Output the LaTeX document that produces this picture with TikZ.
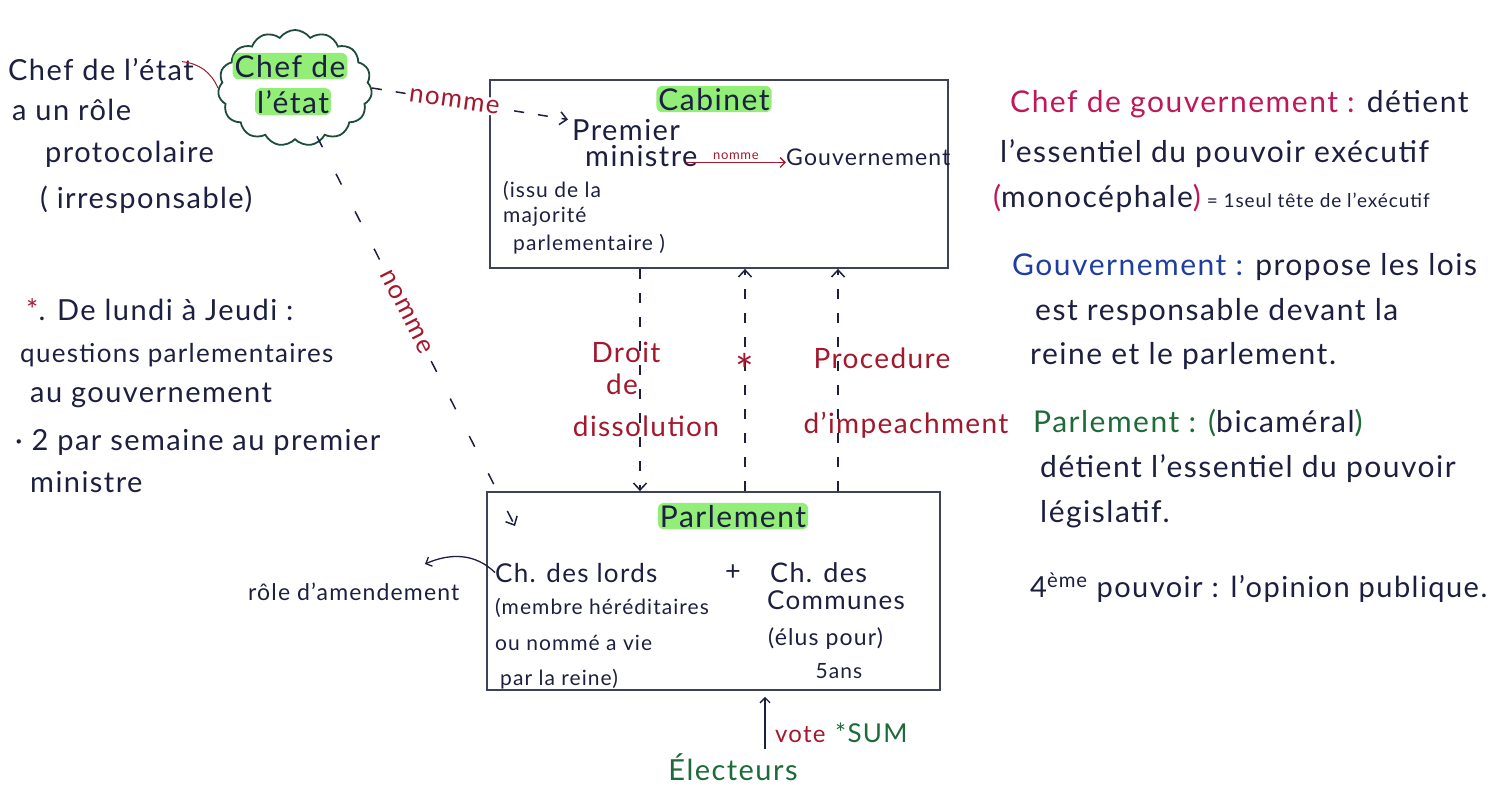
\documentclass[tikz,border=0pt]{standalone}
\usepackage{fontspec}
\setmainfont{Lato}[LetterSpace=5]
\usetikzlibrary{shapes.symbols,arrows.meta,calc}
\definecolor{ink}{HTML}{1C1F3F}
\definecolor{redl}{HTML}{A3182C}
\definecolor{mag}{HTML}{C0175A}
\definecolor{blu}{HTML}{1F3FA0}
\definecolor{grn}{HTML}{1E6B3A}
\definecolor{hlg}{HTML}{6EE84A}
\definecolor{cloudc}{HTML}{1D4D3A}
\begin{document}
\begin{tikzpicture}[x=1pt,y=-1pt,
  txt/.style={font=\fontsize{30}{34}\selectfont, text=ink, inner sep=0pt, anchor=base west},
  lt/.style={font=\fontsize{29}{32}\selectfont, text=ink, inner sep=0pt, anchor=base west},
  bx/.style={font=\fontsize{27}{30}\selectfont, text=ink, inner sep=0pt, anchor=base west},
  sm/.style={font=\fontsize{21}{24}\selectfont, text=ink, inner sep=0pt, anchor=base west},
  lab/.style={font=\fontsize{28}{30}\selectfont, text=redl, inner sep=0pt, anchor=base},
  hl/.style={fill=hlg, fill opacity=0.75, text opacity=1, rounded corners=6pt, inner sep=2pt, font=\fontsize{30}{32}\selectfont, text=ink, anchor=base},
  boxn/.style={draw=ink!85, line width=1.8pt, rectangle, inner sep=0pt},
  cloudn/.style={cloud, draw=cloudc, line width=1.8pt, cloud puffs=15, cloud puff arc=110, aspect=1.3, minimum width=154pt, minimum height=116pt, inner sep=0pt},
  dline/.style={draw=ink, line width=1.5pt, dash pattern=on 10pt off 14pt},
  sparse/.style={draw=ink, line width=1.5pt, dash pattern=on 12pt off 30pt},
  tip/.style={-{Straight Barb[length=7pt,width=13pt]}},
  stip/.style={-{Straight Barb[length=5pt,width=10pt]}},
]
\useasboundingbox (0,0) rectangle (1503,787);

% ---------- Chef de l'etat cloud ----------
\node[cloudn] (chef) at (295,88) {};
\node[hl] (chefA) at (290,77) {Chef de};
\node[hl] (chefB) at (293,113) {l'état};

% ---------- Left notes ----------
\node[lt] (l1) at (8,80) {Chef de l'état};
\node[lt] (l2) at (12,120) {a un rôle};
\node[lt] (l3) at (45,162) {protocolaire};
\node[lt] (l4) at (40,208) {( irresponsable)};
\draw[redl, line width=1pt] ($(l1.north east)+(-12,4)$) to[bend left=30] (chef.west);

\node[lt] (m1) at (26,320) {\textcolor{redl}{*}. De lundi à Jeudi :};
\node[lt, font=\fontsize{26}{30}\selectfont] (m2) at (20,362) {questions parlementaires};
\node[lt] (m3) at (30,402) {au gouvernement};
\node[lt] (m4) at (15,450) {· 2 par semaine au premier};
\node[lt] (m5) at (30,492) {ministre};

% ---------- Cabinet ----------
\node[boxn, minimum width=458pt, minimum height=188pt] (cab) at (719,174) {};
\node[hl] (cabT) at (714,110) {Cabinet};
\node[bx, font=\fontsize{29}{32}\selectfont] (pm) at (572,140) {Premier};
\node[bx, font=\fontsize{29}{32}\selectfont] (pm2) at (585,166) {ministre};
\node[sm] (pm3) at (503,197) {(issu de la};
\node[sm] (pm4) at (503,222) {majorité};
\node[sm] (pm5) at (513,250) {parlementaire )};
\node[bx, font=\fontsize{23}{26}\selectfont] (gov) at (786,165) {Gouvernement};
\draw[redl, line width=1.3pt, stip] ($(pm2.east |- gov.mid)+(-12,0)$) -- node[above=2pt, font=\fontsize{13}{15}\selectfont, text=redl, inner sep=0pt]{nomme} (gov.mid west);

% nomme (chef -> premier ministre)
\draw[dline, tip] (chef.east) -- node[pos=0.42, fill=white, inner sep=2pt, font=\fontsize{26}{28}\selectfont, text=redl, rotate=-8]{nomme} ($(pm.west)+(-4,-10)$);

% nomme (chef -> chambre des lords)
\coordinate (lordtip) at (515,526);
\draw[sparse, tip] (chef.south) ++(22,-4) coordinate (cs) -- node[pos=0.45, sloped, fill=white, inner sep=2pt, font=\fontsize{26}{28}\selectfont, text=redl]{nomme} (lordtip);

% ---------- Parlement ----------
\node[boxn, minimum width=453pt, minimum height=198pt] (parl) at (713.5,591) {};
\node[hl] (parlT) at (733,527) {Parlement};
\node[bx, font=\fontsize{26}{30}\selectfont] (lords) at (495,582) {Ch. des lords};
\node[sm] (lo1) at (495,614) {(membre héréditaires};
\node[sm] (lo2) at (495,650) {ou nommé a vie};
\node[sm] (lo3) at (500,685) {par la reine)};
\node[bx, anchor=base] (plus) at (733,580) {+};
\node[bx, font=\fontsize{27}{30}\selectfont] (com1) at (770,582) {Ch. des};
\node[bx, font=\fontsize{26}{30}\selectfont] (com2) at (767,609) {Communes};
\node[sm, font=\fontsize{23}{26}\selectfont] (com3) at (768,645) {(élus pour)};
\node[sm, anchor=base] (com4) at (839,678) {5ans};

\node[sm, font=\fontsize{23}{26}\selectfont] (amend) at (248,600) {rôle d'amendement};
\coordinate (amendtip) at (425,564);
\draw[ink, line width=1.3pt, stip] (lords.west) .. controls (475,553) and (450,553) .. (amendtip);

% ---------- vertical links ----------
\coordinate (vA) at (640,0);
\coordinate (vB) at (745,0);
\coordinate (vC) at (838,0);
\draw[dline, tip] (cab.south -| vA) -- (parl.north -| vA);
\draw[dline, tip] (parl.north -| vB) -- (cab.south -| vB);
\draw[dline, tip] (parl.north -| vC) -- (cab.south -| vC);

\node[lab] (d1) at (626,362) {Droit};
\node[lab] (d2) at (622,394) {de};
\node[lab] (d3) at (646,436) {dissolution};
\node[lab, font=\fontsize{44}{44}\selectfont] (star) at (745,386) {*};
\node[lab] (p1) at (882,368) {Procedure};
\node[lab] (p2) at (906,433) {d'impeachment};

% ---------- Electeurs ----------
\node[font=\fontsize{29}{32}\selectfont, text=grn, inner sep=0pt, anchor=base] (elec) at (733,780) {Électeurs};
\coordinate (vx) at (765,0);
\draw[ink, line width=1.3pt, stip] ($(elec.north -| vx)+(0,-4)$) -- ($(parl.south -| vx)+(0,6)$);
\node[sm, font=\fontsize{24}{26}\selectfont, text=redl] (vote) at (775,742) {vote};
\node[sm, font=\fontsize{26}{28}\selectfont, text=grn] (sum) at (835,742) {*SUM};

% ---------- Right notes ----------
\node[txt] (r1) at (1010,112) {\textcolor{mag}{Chef de gouvernement :} détient};
\node[txt] (r2) at (1000,162) {l'essentiel du pouvoir exécutif};
\node[txt] (r3) at (993,207) {\textcolor{mag}{(}monocéphale\textcolor{mag}{)}\fontsize{19}{22}\selectfont{} = 1seul tête de l'exécutif};
\node[txt] (r4) at (1012,275) {\textcolor{blu}{Gouvernement :} propose les lois};
\node[txt] (r5) at (1035,320) {est responsable devant la};
\node[txt] (r6) at (1030,364) {reine et le parlement.};
\node[txt] (r7) at (1033,432) {\textcolor{grn}{Parlement :} \textcolor{grn}{(}bicaméral\textcolor{grn}{)}};
\node[txt] (r8) at (1040,477) {détient l'essentiel du pouvoir};
\node[txt] (r9) at (1040,522) {législatif.};
\node[txt, font=\fontsize{29}{32}\selectfont] (r10) at (1030,597) {4\textsuperscript{ème} pouvoir : l'opinion publique.};
\end{tikzpicture}
\end{document}
